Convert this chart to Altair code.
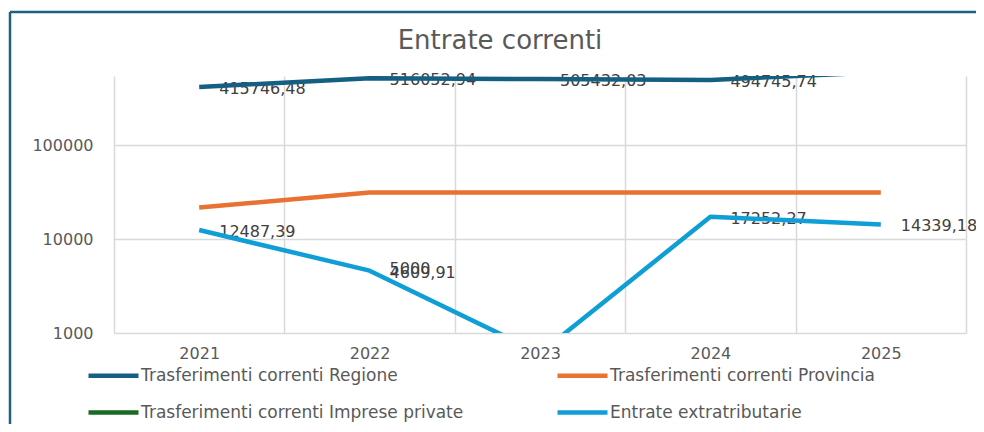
import altair as alt
import pandas as pd

# ---- data ----
years = ["2021", "2022", "2023", "2024", "2025"]
series_names = [
    "Trasferimenti correnti Regione",
    "Trasferimenti correnti Provincia",
    "Trasferimenti correnti Imprese private",
    "Entrate extratributarie",
]
regione = [415746.48, 516052.94, 505432.03, 494745.74, 598000.0]
provincia = [21700.0, 31400.0, 31400.0, 31400.0, 31400.0]
imprese_private = [None, 5000.0, None, None, None]
extratributarie = [12487.39, 4609.91, 610.0, 17252.27, 14339.18]
series_values = [regione, provincia, imprese_private, extratributarie]
series_colors = ["#156082", "#E97132", "#196B24", "#0F9ED5"]
series_labelled = [True, False, True, True]
y_ticks = [1000, 10000, 100000]
y_domain = [1000, 545000]

# legend is filled column by column: order entries so that the two rows read
# Regione | Provincia  /  Imprese private | Entrate extratributarie
legend_order = [0, 2, 1, 3]
legend_names = [series_names[i] for i in legend_order]
legend_colors = [series_colors[i] for i in legend_order]


def fmt(v):
    if float(v).is_integer():
        return str(int(v))
    return f"{v:.2f}".replace(".", ",")


rows = []
for name, vals, lab in zip(series_names, series_values, series_labelled):
    for yr, v in zip(years, vals):
        if v is None:
            continue
        rows.append({"year": yr, "series": name, "value": v,
                     "label": fmt(v), "labelled": lab})
df = pd.DataFrame(rows)

FONT = "DejaVu Sans"
GRID = "#D9D9D9"

x_enc = alt.X("year:O", sort=years, title=None,
              scale=alt.Scale(domain=years, paddingInner=0, paddingOuter=0),
              axis=alt.Axis(labelAngle=0, domain=False, ticks=False, grid=True,
                            tickBand="extent", gridColor=GRID, gridWidth=1.5,
                            labelFont=FONT, labelFontSize=16, labelColor="#595959",
                            labelPadding=12))
y_enc = alt.Y("value:Q", title=None,
              scale=alt.Scale(type="log", domain=y_domain, nice=False),
              axis=alt.Axis(values=y_ticks, format="d", domain=False, ticks=False,
                            grid=True, gridColor=GRID, gridWidth=1.5,
                            labelFont=FONT, labelFontSize=16, labelColor="#595959",
                            labelPadding=21))

base = alt.Chart(df)

labels = base.mark_text(align="left", baseline="middle", dx=20, dy=2,
                        font=FONT, fontSize=16, color="#404040").encode(
    x=x_enc, y=y_enc, text="label:N"
).transform_filter(
    f"datum.labelled && datum.value >= {y_domain[0]} && datum.value <= {y_domain[1]}"
)

lines = base.mark_line(strokeWidth=4.5, strokeCap="butt", strokeJoin="round",
                       clip=True).encode(
    x=x_enc, y=y_enc,
    color=alt.Color("series:N", sort=legend_names,
                    scale=alt.Scale(domain=legend_names, range=legend_colors),
                    legend=alt.Legend(title=None, orient="none", legendX=-28, legendY=272,
                                      columns=2, symbolType="stroke", symbolSize=2500,
                                      symbolStrokeWidth=4.5, labelFont=FONT,
                                      labelFontSize=17, labelColor="#595959",
                                      labelOffset=0, columnPadding=84, rowPadding=-16,
                                      padding=0, labelLimit=600)),
    detail="series:N",
)

frame_top = alt.Chart(alt.Data(values=[{}])).mark_rule(
    color="#1F5F80", strokeWidth=2.5).encode(
    x=alt.value(-104), x2=alt.value(880), y=alt.value(-64))
frame_left = alt.Chart(alt.Data(values=[{}])).mark_rule(
    color="#1F5F80", strokeWidth=2.5).encode(
    x=alt.value(-104), y=alt.value(-64), y2=alt.value(360))

chart = alt.layer(labels, lines, frame_top, frame_left).properties(
    width=852, height=257,
    title=alt.TitleParams("Entrate correnti", font=FONT, fontSize=26,
                          fontWeight="normal", color="#595959", anchor="middle",
                          frame="group", dx=-40, offset=-43),
    autosize=alt.AutoSizeParams(type="none"),
    padding={"left": 106, "top": 68, "right": 10, "bottom": 91},
).configure_view(stroke=None)

chart.save("out.html", embed_options={"renderer": "svg", "actions": False})
